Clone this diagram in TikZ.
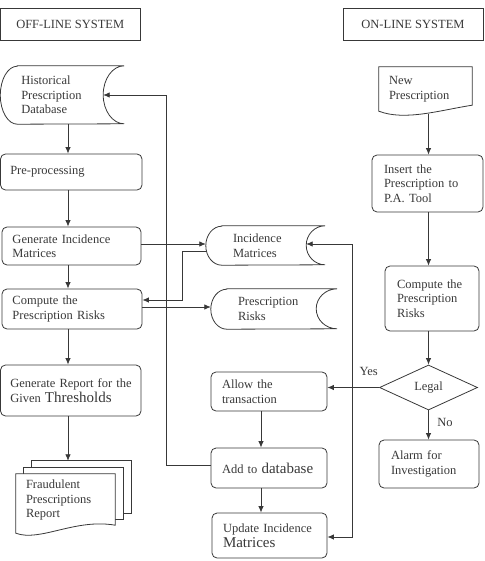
\documentclass[tikz,border=0pt]{standalone}
\usepackage{fontspec}
\setmainfont{Liberation Serif}
\usetikzlibrary{arrows.meta,shapes.geometric,calc,backgrounds}
\colorlet{ink}{black!78}
\newcommand\stdata[4]{\draw[line] ([xshift=#2pt]#1.north west) -- (#1.north east)
  arc[start angle=90,end angle=270,x radius=#3pt,y radius=#4pt]
  -- ([xshift=#2pt]#1.south west)
  arc[start angle=270,end angle=90,x radius=#2pt,y radius=#4pt] -- cycle;}
\begin{document}
\begin{tikzpicture}[x=1pt,y=-1pt,
  every node/.style={font=\fontsize{12.5}{14.5}\selectfont, text=ink},
  line/.style={draw=ink, line width=0.8pt},
  arr/.style={line, -{Latex[length=6.5pt,width=5.5pt]}},
  arrboth/.style={line, {Latex[length=6.5pt,width=5.5pt]}-{Latex[length=6.5pt,width=5.5pt]}},
  box/.style={line, rounded corners=5pt, align=left, inner xsep=0pt, inner ysep=0pt},
  plain/.style={align=left, inner sep=0pt},
  titlebox/.style={line, inner sep=0pt, align=center},
  lab/.style={inner sep=0pt}]
\useasboundingbox (0,0) rectangle (484,561);

% titles
\node[titlebox, minimum width=139.5pt, minimum height=32pt] (offl) at (70.25,24) {OFF-LINE SYSTEM};
\node[titlebox, minimum width=140pt, minimum height=32pt] (onl) at (413,24) {ON-LINE SYSTEM};

% off-line column
\node[plain, minimum width=123.5pt, minimum height=58pt, text width=82pt] (hist) at (62.25,95) {Historical\\Prescription\\Database};
\stdata{hist}{17}{21}{29}
\node[box, minimum width=141.5pt, minimum height=36pt, text width=122pt] (pre) at (71.25,172) {Pre-processing};
\node[box, minimum width=139pt, minimum height=38pt, text width=118pt] (gen) at (71.5,246) {Generate Incidence\\Matrices};
\node[box, minimum width=140pt, minimum height=40pt, text width=119pt] (comp) at (72,309) {Compute the\\Prescription Risks};
\node[box, minimum width=140.5pt, minimum height=51pt, text width=121pt] (rep) at (70.75,390.5) {\mbox{Generate Report for the}\\Given {\fontsize{15}{17}\selectfont Thresholds}};
\node[plain, minimum width=99pt, minimum height=52pt, text width=79pt] (fraud) at (65.5,500) {Fraudulent\\Prescriptions\\Report};
\begin{scope}[on background layer]
\draw[line, fill=white] ($(fraud.north west)+(16,-13)$) rectangle ($(fraud.south east)+(16,-13)$);
\draw[line, fill=white] ($(fraud.north west)+(8,-6.5)$) rectangle ($(fraud.south east)+(8,-6.5)$);
\draw[line, fill=white] (fraud.north west) -- (fraud.north east) -- ($(fraud.south east)+(0,-1)$)
  .. controls ($(fraud.south)+(9.5,-8)$) and ($(fraud.south)+(-25.5,16)$) .. ($(fraud.south west)+(0,7)$) -- cycle;
\end{scope}

% middle column
\node[plain, minimum width=119pt, minimum height=39pt, text width=65pt] (incm) at (265.5,245.5) {Incidence\\Matrices};
\stdata{incm}{16}{19}{19.5}
\node[plain, minimum width=126pt, minimum height=40pt, text width=72pt] (prisk) at (274,309) {Prescription\\Risks};
\stdata{prisk}{16}{21}{20}
\node[box, minimum width=116pt, minimum height=39pt, text width=94pt] (allow) at (269,391.5) {Allow the\\transaction};
\node[box, minimum width=116pt, minimum height=40pt, text width=94pt] (add) at (269,468) {\mbox{Add to {\fontsize{15}{17}\selectfont database}}};
\node[box, minimum width=115pt, minimum height=45pt, text width=93pt] (upd) at (269.5,535.5) {Update Incidence\\{\fontsize{15}{17}\selectfont Matrices}};

% on-line column
\node[plain, minimum width=93pt, minimum height=44pt, text width=73pt] (newp) at (425.5,89) {New\\Prescription};
\draw[line] (newp.north west) -- (newp.north east) -- ($(newp.south east)+(0,-6)$)
  .. controls ($(newp.south)+(14.5,-1)$) and ($(newp.south)+(-20.5,10)$) .. (newp.south west) -- cycle;
\node[box, minimum width=111pt, minimum height=57pt, text width=87pt] (ins) at (427.5,183.5) {Insert the\\Prescription to\\P.A. Tool};
\node[box, minimum width=94pt, minimum height=65pt, text width=70pt] (comp2) at (432,298.5) {Compute the\\Prescription\\Risks};
\node[line, diamond, aspect=2.18, minimum width=98pt, minimum height=45pt, inner sep=0pt] (legal) at (428.5,387.5) {Legal};
\node[box, minimum width=100pt, minimum height=48pt, text width=76pt] (alarm) at (429,464) {Alarm for\\Investigation};

% helper coordinates
\coordinate (sp) at (68,0);
\coordinate (lx) at (166,0);
\coordinate (mx) at (261,0);
\coordinate (rx) at (352,0);
\coordinate (ox) at (428.5,0);
\coordinate (fraudtop) at ($(fraud.north)+(0,-13)$);
\coordinate (hcave) at ($(hist.east)+(-21,0)$);
\coordinate (icave) at ($(incm.east)+(-19,-1.5)$);
\coordinate (g1) at ($(gen.east)+(0,-2)$);
\coordinate (i1) at ($(incm.west)+(1,6)$);
\coordinate (c1) at ($(comp.east)+(0,-9)$);
\coordinate (c2) at ($(comp.east)+(0,-2)$);
\coordinate (a1) at ($(add.west)+(0,-3)$);
\coordinate (u1) at ($(upd.east)+(0,1.5)$);
\coordinate (n1) at ($(newp.south)+(3,2.5)$);

% off-line flow
\draw[arr] (hist.south -| sp) -- (pre.north -| sp);
\draw[arr] (pre.south -| sp) -- (gen.north -| sp);
\draw[arr] (gen.south -| sp) -- (comp.north -| sp);
\draw[arr] (comp.south -| sp) -- (rep.north -| sp);
\draw[arr] (rep.south -| sp) -- (fraudtop -| sp);
\draw[arr] (g1) -- (g1 -| incm.west);
\draw[arr] (i1) -| ($(c1)+(40,0)$) -- (c1);
\draw[arr] (c2) -- (c2 -| prisk.west);
\draw[arr] (a1) -- (a1 -| lx) -- (lx |- hcave) -- (hcave);

% on-line flow
\draw[arr] (n1) -- (ins.north -| ox);
\draw[arr] (ins.south -| ox) -- (comp2.north -| ox);
\draw[arr] (comp2.south -| ox) -- (legal.north);
\draw[arr] (legal.west) -- node[lab, pos=0.2, above=11pt] (yes) {Yes} (legal.west -| allow.east);
\draw[arr] (legal.south) -- node[lab, pos=0.43, right=8.5pt] (no) {No} (legal.south |- alarm.north);
\draw[arr] (allow.south -| mx) -- (add.north -| mx);
\draw[arr] (add.south -| mx) -- (upd.north -| mx);
\draw[arrboth] (u1) -- (u1 -| rx) -- (rx |- icave) -- (icave);
\end{tikzpicture}
\end{document}
